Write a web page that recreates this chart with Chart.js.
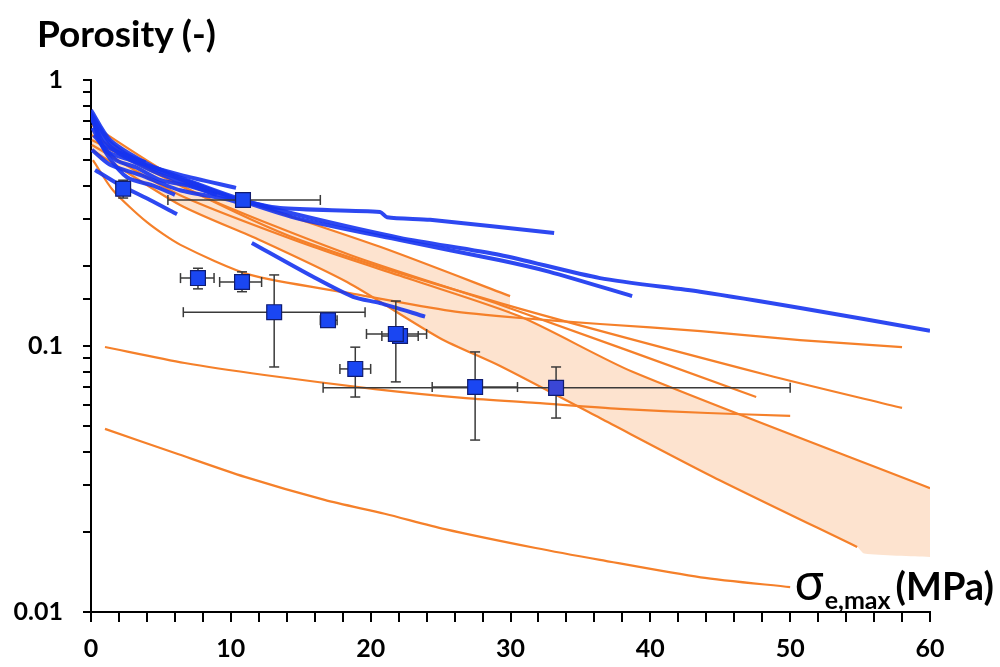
<!DOCTYPE html>
<html>
<head>
<meta charset="utf-8">
<title>Porosity vs maximum effective stress</title>
<script src="https://cdn.jsdelivr.net/npm/chart.js@4.4.1/dist/chart.umd.min.js"></script>
<style>
  html, body { margin: 0; padding: 0; background: #fff; }
  #wrap { position: relative; width: 1000px; height: 667px; }
  #yTitle { position: absolute; left: 37px; top: 10px; font: bold 37px Lato, sans-serif; color: #000; white-space: nowrap; }
  #xTitle { position: absolute; left: 794px; top: 547px; font: bold 38px Lato, sans-serif; color: #000; white-space: nowrap; }
  #xTitle .sig { font: 50px "Noto Sans", sans-serif; }
  #xTitle sub { font: bold 25px Lato, sans-serif; vertical-align: -9px; margin-right: 5px; }
</style>
</head>
<body>
<div id="wrap">
  <canvas id="myChart" width="1000" height="667"></canvas>
  <div id="yTitle">Porosity (-)</div>
  <div id="xTitle"><span class="sig">σ</span><sub>e,max</sub>(MPa)</div>
</div>
<script>
// x axis ticks (MPa) and y axis labelled decades
const xTicks = [0, 10, 20, 30, 40, 50, 60];
const yLabels = [1, 0.1, 0.01];

// orange compaction curves: [sigma_e,max (MPa), porosity]
const orange1 = [[1.0,0.0488],[6.0,0.0396],[11.0,0.0322],[16.7,0.0264],[21.0,0.0234],[25.3,0.0205],[31.8,0.0174],[36.4,0.0157],[43.6,0.0135],[50.0,0.0124]];
const orange2 = [[1.0,0.0991],[6.7,0.0863],[12.4,0.0778],[20.3,0.0689],[26.8,0.0637],[31.8,0.0611],[37.8,0.058],[44.1,0.056],[50.0,0.0546]];
const orange3 = [[0.14,0.5],[1.57,0.385],[4.0,0.292],[6.4,0.24],[11.4,0.185],[18.5,0.158],[25.7,0.1355],[30.7,0.1274],[36.4,0.121],[43.6,0.1138],[50.7,0.1053],[58.0,0.099]];
const orange4 = [[0.07,0.62],[6.37,0.403],[14.95,0.25],[29.26,0.145],[48.35,0.0778],[58.0,0.0585]];
const orange5 = [[0.07,0.595],[7.8,0.369],[18.53,0.22],[29.26,0.143],[47.57,0.0643]];
const orange6 = [[0.07,0.57],[6.37,0.369],[15.88,0.236],[23.03,0.177],[30.69,0.129],[38.77,0.0798],[60,0.0292]];
const orange7 = [[0.07,0.546],[6.37,0.339],[12.09,0.25],[18.31,0.174],[24.96,0.107],[29.26,0.0841],[36.4,0.0536],[44.49,0.0322],[54.79,0.01756]];
const orange8 = [[0.07,0.678],[6.37,0.421],[11.37,0.345],[20.67,0.236],[29.97,0.154]];
// lower edge of the shaded band (runs on past the end of orange7)
const bandLow = [[0.07,0.546],[6.37,0.339],[12.09,0.25],[18.31,0.174],[24.96,0.107],[29.26,0.0841],[36.4,0.0536],[44.49,0.0322],[54.79,0.01756],[55.3,0.0166],[60,0.0161]];

// blue curves
const blue1 = [[0,0.771],[1.36,0.595],[4.22,0.479],[7.8,0.403],[10.87,0.354],[14.95,0.31],[22.1,0.255],[29.26,0.22],[36.4,0.18],[43.56,0.16],[50.72,0.139],[60,0.114]];
const blue2 = [[0,0.75],[1.4,0.58],[4.2,0.47],[7.8,0.4],[10.87,0.35],[14.95,0.3],[22.1,0.25],[29.26,0.21],[32.8,0.19],[38.7,0.154]];
const blue3 = [[0,0.72],[1.4,0.56],[4.2,0.46],[7.8,0.39],[9.94,0.36],[13.52,0.33],[20.67,0.319],[21.17,0.305],[24.25,0.298],[33.12,0.266]];
const blue4 = [[0.14,0.7],[1.0,0.546],[2.8,0.5],[6.4,0.44],[10.37,0.393]];
const blue5 = [[11.5,0.244],[15.88,0.182],[18.74,0.153],[20.67,0.145],[23.89,0.129]];
const blue6 = [[0.29,0.459],[2.07,0.403],[4.22,0.354],[6.15,0.313]];
const blue7 = [[0,0.74],[1.0,0.57],[3.9,0.49]];
const blue8 = [[0.07,0.546],[1.36,0.48],[3.5,0.44],[6.37,0.385],[9.94,0.354],[10.87,0.34]];
const blue9 = [[0.2,0.62],[1.8,0.5],[3.2,0.47],[5.0,0.42],[7.0,0.4],[9.0,0.37]];
const blue10 = [[0.1,0.66],[1.2,0.52],[2.6,0.43],[4.5,0.4],[6.0,0.37]];

// measured points with error bars (null = no bar)
const ptX   = [2.3, 10.87, 7.65, 10.8, 13.1, 16.95, 22.1, 21.8, 18.9, 27.47, 33.26];
const ptY   = [0.39, 0.354, 0.18, 0.174, 0.134, 0.125, 0.109, 0.111, 0.082, 0.0701, 0.0696];
const ptXlo = [null, 5.5, 6.4, 9.2, 6.6, 16.4, 20.8, 19.7, 17.8, 24.4, 16.6];
const ptXhi = [null, 16.4, 8.8, 12.2, 19.6, 17.6, 23.4, 24.0, 20.0, 30.5, 50.0];
const ptYlo = [0.36, null, 0.164, 0.16, 0.0834, null, null, 0.0733, 0.0643, 0.0443, 0.0536];
const ptYhi = [0.42, null, 0.196, 0.19, 0.185, null, null, 0.1476, 0.099, 0.095, 0.0834];

const ORANGE = '#f5802a';
const BLUE = 'rgba(22,52,240,0.9)';
const BAND = '#fde3cf';
const tickFont = { family: "Lato, sans-serif", size: 25, weight: 'bold' };

function pts(arr) {
	return arr.map(p => ({ x: p[0], y: p[1] }));
}

function curve(arr, color, width, order) {
	return { data: pts(arr), borderColor: color, borderWidth: width, pointRadius: 0, tension: 0.25, fill: false, order: order };
}

function errLine(data, rot) {
	return { data: data, borderColor: '#3a3a3a', borderWidth: 1.5, pointStyle: 'line', pointRadius: 5,
		pointRotation: rot, pointBorderColor: '#3a3a3a', pointBorderWidth: 1.5, pointHoverRadius: 0,
		tension: 0, fill: false, order: 2 };
}

const datasets = [];
// hidden lower edge of band (index 0)
datasets.push({ data: pts(bandLow), borderColor: 'transparent', borderWidth: 0, pointRadius: 0, tension: 0.25, fill: false, order: 5 });
// orange6 fills down to band edge (index 1), orange8 fills down to orange6 (index 2)
const o6 = curve(orange6, ORANGE, 2.2, 4); o6.fill = { target: 0 }; o6.backgroundColor = BAND;
datasets.push(o6);
const o8 = curve(orange8, ORANGE, 2.2, 4); o8.fill = { target: 1 }; o8.backgroundColor = BAND;
datasets.push(o8);
[orange1, orange2, orange3, orange4, orange5, orange7].forEach(a => datasets.push(curve(a, ORANGE, 2.2, 4)));
[blue1, blue2, blue3, blue4, blue5, blue6, blue7, blue8, blue9, blue10].forEach(a => datasets.push(curve(a, BLUE, 4, 3)));

for (let i = 0; i < ptX.length; i++) {
	if (ptXlo[i] !== null) datasets.push(errLine([{ x: ptXlo[i], y: ptY[i] }, { x: ptXhi[i], y: ptY[i] }], 90));
	if (ptYlo[i] !== null) datasets.push(errLine([{ x: ptX[i], y: ptYlo[i] }, { x: ptX[i], y: ptYhi[i] }], 0));
}

const squareFill = ptX.map((v, i) => i === ptX.length - 1 ? '#3a46d6' : '#1a46f2');
datasets.push({
	data: ptX.map((v, i) => ({ x: v, y: ptY[i] })),
	showLine: false, pointStyle: 'rect', pointRadius: 10.5, pointHoverRadius: 10.5,
	pointBackgroundColor: squareFill, pointBorderColor: '#101c70', pointBorderWidth: 1.2, order: 1
});

const config = {
	type: 'line',
	data: { datasets: datasets },
	options: {
		responsive: false,
		devicePixelRatio: 1,
		animation: false,
		layout: { padding: { top: 80, right: 70, left: 0, bottom: 0 } },
		plugins: {
			legend: { display: false },
			tooltip: { enabled: false },
			filler: { drawTime: 'beforeDatasetsDraw' }
		},
		scales: {
			x: {
				type: 'linear', min: 0, max: 60,
				afterFit: s => { s.height = 55; },
				ticks: {
					stepSize: 2, autoSkip: false, maxRotation: 0, color: '#000', font: tickFont, padding: 12,
					callback: v => xTicks.includes(v) ? String(v) : ''
				},
				grid: { drawOnChartArea: false, tickLength: 10, color: '#000', lineWidth: 2 },
				border: { color: '#000', width: 2 }
			},
			y: {
				type: 'logarithmic', min: 0.01, max: 1,
				afterFit: s => { s.width = 91; },
				ticks: {
					autoSkip: false, color: '#000', font: tickFont, padding: 20,
					callback: v => {
						const hit = yLabels.find(l => Math.abs(l - v) < l * 1e-6);
						return hit !== undefined ? String(hit) : '';
					}
				},
				grid: { drawOnChartArea: false, tickLength: 8, color: '#000', lineWidth: 2 },
				border: { color: '#000', width: 2 }
			}
		}
	}
};

const myChart = new Chart(document.getElementById('myChart'), config);
</script>
</body>
</html>
